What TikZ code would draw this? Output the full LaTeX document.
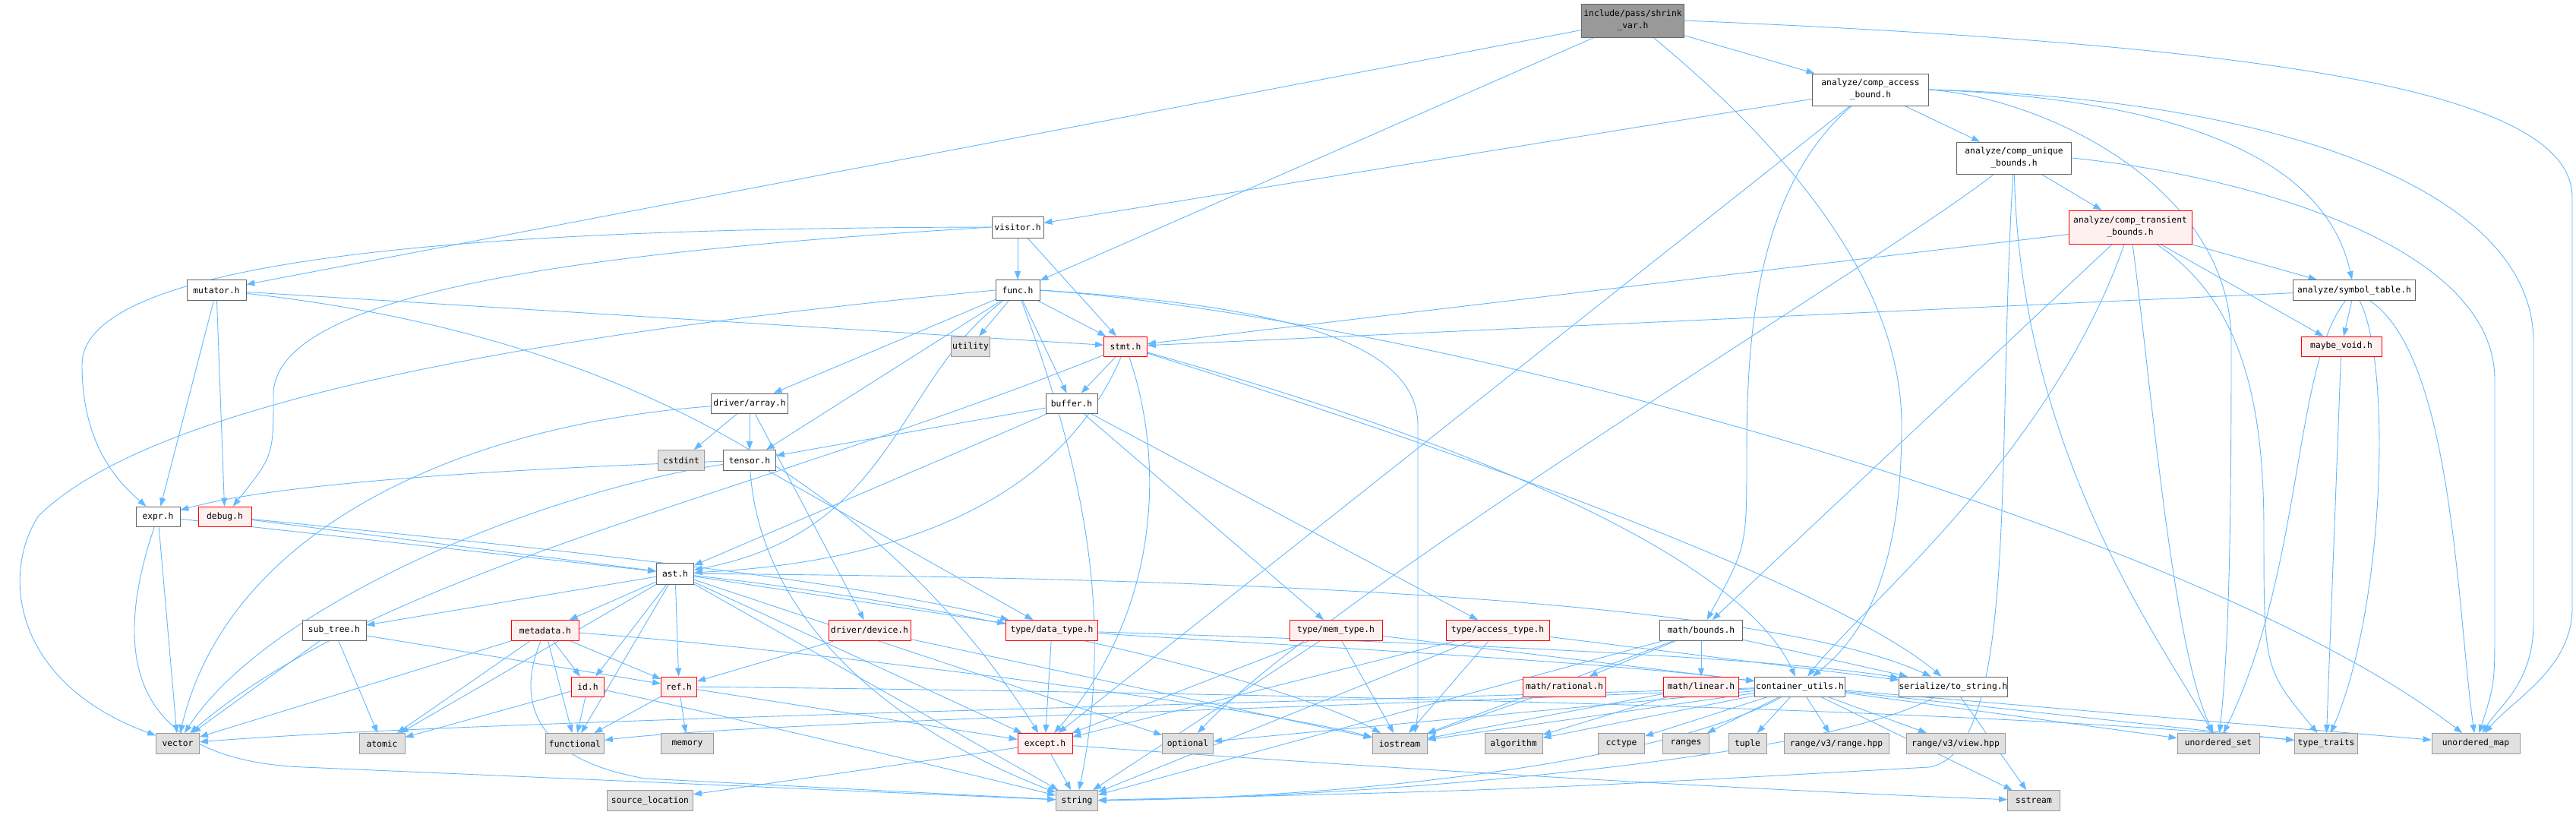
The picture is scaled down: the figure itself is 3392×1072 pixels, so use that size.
\documentclass[tikz,border=0pt]{standalone}
\usepackage{fontspec}
\usetikzlibrary{arrows.meta}
\newfontfamily\monof{DejaVu Sans Mono}
\definecolor{edgeblue}{HTML}{63B8FF}
\definecolor{grayborder}{HTML}{666666}
\definecolor{sysfill}{HTML}{E0E0E0}
\definecolor{sysborder}{HTML}{999999}
\definecolor{rootfill}{HTML}{999999}
\definecolor{redfill}{HTML}{FFF0F0}
\pgfdeclarelayer{background}
\pgfsetlayers{background,main}
\tikzset{
  nd/.style={draw=grayborder, fill=white, line width=0.8pt, inner sep=0pt, align=center,
    font=\monof\fontsize{11.3}{16}\selectfont},
  rednd/.style={nd, draw=red, fill=redfill},
  sysnd/.style={nd, draw=sysborder, fill=sysfill},
  rootnd/.style={nd, fill=rootfill},
  edge/.style={draw=edgeblue, line width=0.9pt, -{Triangle[length=11pt,width=8pt]}},
}
\begin{document}
\begin{tikzpicture}[x=1pt,y=-1pt]
\useasboundingbox (0,0) rectangle (3392,1072);
% nodes
\node[rootnd, minimum width=135pt, minimum height=44pt] (sv) at (2150,27) {include/pass/shrink\\\_var.h};
\node[nd, minimum width=153pt, minimum height=42pt] (cab) at (2463,118) {analyze/comp\_access\\\_bound.h};
\node[nd, minimum width=151pt, minimum height=42pt] (cub) at (2652,208) {analyze/comp\_unique\\\_bounds.h};
\node[rednd, minimum width=162pt, minimum height=44pt] (ctb) at (2805,299) {analyze/comp\_transient\\\_bounds.h};
\node[nd, minimum width=68pt, minimum height=28pt] (vis) at (1340,299) {visitor.h};
\node[nd, minimum width=78pt, minimum height=27pt] (mut) at (285,382) {mutator.h};
\node[nd, minimum width=58pt, minimum height=27pt] (func) at (1340,382) {func.h};
\node[sysnd, minimum width=51pt, minimum height=26pt] (util) at (1278,456) {utility};
\node[rednd, minimum width=57pt, minimum height=26pt] (stmt) at (1482,456) {stmt.h};
\node[nd, minimum width=101pt, minimum height=26pt] (arr) at (987,531) {driver/array.h};
\node[nd, minimum width=68pt, minimum height=26pt] (buf) at (1411,531) {buffer.h};
\node[sysnd, minimum width=61pt, minimum height=27pt] (cstd) at (897,606) {cstdint};
\node[nd, minimum width=69pt, minimum height=27pt] (tens) at (987,606) {tensor.h};
\node[nd, minimum width=161pt, minimum height=27pt] (sym) at (3100,382) {analyze/symbol\_table.h};
\node[rednd, minimum width=106pt, minimum height=26pt] (mv) at (3083,456) {maybe\_void.h};
\node[nd, minimum width=58pt, minimum height=26pt] (expr) at (208,680) {expr.h};
\node[rednd, minimum width=70pt, minimum height=26pt] (dbg) at (296,680) {debug.h};
\node[nd, minimum width=49pt, minimum height=28pt] (ast) at (889,755) {ast.h};
\node[rednd, minimum width=108pt, minimum height=27pt] (dev) at (1145,830) {driver/device.h};
\node[rednd, minimum width=121pt, minimum height=27pt] (dt) at (1385,830) {type/data\_type.h};
\node[rednd, minimum width=122pt, minimum height=27pt] (mt) at (1759,830) {type/mem\_type.h};
\node[rednd, minimum width=136pt, minimum height=27pt] (at) at (1972,830) {type/access\_type.h};
\node[nd, minimum width=109pt, minimum height=27pt] (mb) at (2240,830) {math/bounds.h};
\node[nd, minimum width=84pt, minimum height=27pt] (subt) at (440,830) {sub\_tree.h};
\node[rednd, minimum width=89pt, minimum height=27pt] (meta) at (718,830) {metadata.h};
\node[rednd, minimum width=43pt, minimum height=26pt] (idh) at (774,904) {id.h};
\node[rednd, minimum width=47pt, minimum height=26pt] (ref) at (894,904) {ref.h};
\node[rednd, minimum width=109pt, minimum height=26pt] (mr) at (2060,904) {math/rational.h};
\node[rednd, minimum width=99pt, minimum height=26pt] (ml) at (2240,904) {math/linear.h};
\node[nd, minimum width=119pt, minimum height=26pt] (cu) at (2370,904) {container\_utils.h};
\node[nd, minimum width=137pt, minimum height=26pt] (ser) at (2572,904) {serialize/to\_string.h};
\node[sysnd, minimum width=57pt, minimum height=27pt] (vec) at (234,979) {vector};
\node[sysnd, minimum width=60pt, minimum height=27pt] (atom) at (503,979) {atomic};
\node[sysnd, minimum width=77pt, minimum height=27pt] (functional) at (757,979) {functional};
\node[sysnd, minimum width=69pt, minimum height=27pt] (mem) at (905,979) {memory};
\node[rednd, minimum width=72pt, minimum height=27pt] (exc) at (1376,979) {except.h};
\node[sysnd, minimum width=67pt, minimum height=27pt] (opt) at (1564,979) {optional};
\node[sysnd, minimum width=72pt, minimum height=27pt] (ios) at (1843,979) {iostream};
\node[sysnd, minimum width=76pt, minimum height=27pt] (algo) at (1993,979) {algorithm};
\node[sysnd, minimum width=61pt, minimum height=27pt] (cct) at (2135,979) {cctype};
\node[sysnd, minimum width=61pt, minimum height=27pt] (rng) at (2220,979) {ranges};
\node[sysnd, minimum width=50pt, minimum height=27pt] (tup) at (2301,979) {tuple};
\node[sysnd, minimum width=138pt, minimum height=27pt] (rr) at (2418,979) {range/v3/range.hpp};
\node[sysnd, minimum width=130pt, minimum height=27pt] (rv) at (2575,979) {range/v3/view.hpp};
\node[sysnd, minimum width=108pt, minimum height=27pt] (us) at (2921,979) {unordered\_set};
\node[sysnd, minimum width=83pt, minimum height=27pt] (tt) at (3063,979) {type\_traits};
\node[sysnd, minimum width=116pt, minimum height=27pt] (um) at (3260,979) {unordered\_map};
\node[sysnd, minimum width=113pt, minimum height=27pt] (sloc) at (856,1054) {source\_location};
\node[sysnd, minimum width=55pt, minimum height=27pt] (str) at (1418,1054) {string};
\node[sysnd, minimum width=69pt, minimum height=27pt] (ss) at (2678,1054) {sstream};
% edges
\begin{pgfonlayer}{background}
% shrink_var
\draw[edge] (sv) -- (mut);
\draw[edge] (sv) -- (func);
\draw[edge] (sv) -- (cab);
\draw[edge] (sv) .. controls (2420,250) and (2504,420) .. (2504,560) .. controls (2504,760) and (2450,840) .. (cu);
\draw[edge] (sv.east) .. controls (3000,60) and (3387,120) .. (3387,260) -- (3387,800) .. controls (3387,880) and (3310,920) .. (um);
% comp_access_bound
\draw[edge] (cab) -- (vis);
\draw[edge] (cab) -- (cub);
\draw[edge] (cab.east) .. controls (2850,130) and (3060,200) .. (sym);
\draw[edge] (cab) .. controls (2310,250) and (2300,450) .. (2300,600) .. controls (2300,720) .. (mb);
\draw[edge] (cab) -- (exc);
\draw[edge] (cab.east) .. controls (2700,130) and (2938,250) .. (2938,450) .. controls (2938,700) and (2935,850) .. (us);
\draw[edge] (cab.east) .. controls (3000,130) and (3336,250) .. (3336,450) -- (3336,820) .. controls (3336,900) and (3290,930) .. (um);
% comp_unique_bounds
\draw[edge] (cub) -- (ctb);
\draw[edge] (cub.east) .. controls (2950,230) and (3285,320) .. (3285,500) -- (3285,820) .. controls (3285,900) .. (um);
\draw[edge] (cub) .. controls (2500,330) and (1750,780) .. (opt);
\draw[edge] (cub) .. controls (2628,600) and (2660,990) .. (2540,1010) .. controls (2000,1040) .. (str);
\draw[edge] (cub) .. controls (2660,600) and (2850,850) .. (us);
% comp_transient_bounds
\draw[edge] (ctb) -- (stmt);
\draw[edge] (ctb) -- (mb);
\draw[edge] (ctb) .. controls (2700,600) and (2450,800) .. (cu);
\draw[edge] (ctb) .. controls (2832,500) and (2860,850) .. (us);
\draw[edge] (ctb) .. controls (2960,400) and (2981,550) .. (2981,700) .. controls (2981,880) .. (tt);
\draw[edge] (ctb) -- (mv);
\draw[edge] (ctb) -- (sym);
% symbol_table
\draw[edge] (sym) -- (stmt);
\draw[edge] (sym) .. controls (3020,480) and (3033,750) .. (us);
\draw[edge] (sym) -- (mv);
\draw[edge] (sym) .. controls (3150,480) and (3140,800) .. (tt);
\draw[edge] (sym) .. controls (3230,470) and (3235,800) .. (um);
\draw[edge] (mv) -- (tt);
% visitor
\draw[edge] (vis) -- (func);
\draw[edge] (vis) -- (stmt);
\draw[edge] (vis.west) .. controls (700,300) and (108,330) .. (108,480) .. controls (108,580) and (150,630) .. (expr);
\draw[edge] (vis.west) .. controls (800,330) and (360,380) .. (360,520) .. controls (360,600) .. (dbg);
% mutator
\draw[edge] (mut) -- (expr);
\draw[edge] (mut) -- (dbg);
\draw[edge] (mut) -- (stmt);
\draw[edge] (mut) .. controls (900,450) and (1200,700) .. (exc);
% func
\draw[edge] (func.west) .. controls (700,440) and (200,530) .. (50,680) .. controls (0,760) and (20,900) .. (vec);
\draw[edge] (func) -- (arr);
\draw[edge] (func) -- (tens);
\draw[edge] (func) .. controls (1180,500) and (1180,700) .. (ast);
\draw[edge] (func) -- (util);
\draw[edge] (func) .. controls (1420,600) and (1470,800) .. (str);
\draw[edge] (func) -- (buf);
\draw[edge] (func) -- (stmt);
\draw[edge] (func.east) .. controls (1900,420) and (2900,700) .. (um);
\draw[edge] (func.east) .. controls (1650,400) and (1867,440) .. (1867,560) -- (1867,940) -- ([xshift=20pt]ios.north);
% stmt
\draw[edge] (stmt) -- (buf);
\draw[edge] (stmt) .. controls (1400,650) and (1200,740) .. (ast);
\draw[edge] (stmt) .. controls (1532,600) and (1532,800) .. (exc);
\draw[edge] (stmt) .. controls (2000,600) and (2300,750) .. (cu);
\draw[edge] (stmt) .. controls (2100,650) and (2450,800) .. (ser);
\draw[edge] (stmt) .. controls (1000,650) and (500,750) .. (vec);
% buffer
\draw[edge] (buf) -- (tens);
\draw[edge] (buf) -- (ast);
\draw[edge] (buf) -- (mt);
\draw[edge] (buf) -- (at);
% driver/array
\draw[edge] (arr) -- (cstd);
\draw[edge] (arr) -- (tens);
\draw[edge] (arr) -- (dev);
\draw[edge] (arr) .. controls (600,560) and (300,700) .. (vec);
% tensor
\draw[edge] (tens) .. controls (600,620) and (350,640) .. (expr);
\draw[edge] (tens) .. controls (700,650) and (350,800) .. (vec);
\draw[edge] (tens) .. controls (1000,800) and (1150,950) .. (str);
\draw[edge] (tens) -- (dt);
% expr
\draw[edge] (expr) -- (ast);
\draw[edge] (expr) -- (vec);
\draw[edge] (expr) .. controls (150,850) and (160,1000) .. (400,1010) -- (str);
% debug
\draw[edge] (dbg) -- (ast);
\draw[edge] (dbg) .. controls (700,720) and (1100,760) .. (dt);
% ast
\draw[edge] (ast) -- (subt);
\draw[edge] (ast) -- (meta);
\draw[edge] (ast) -- (idh);
\draw[edge] (ast) -- (ref);
\draw[edge] (ast) -- (dt);
\draw[edge] (ast) -- (atom);
\draw[edge] (ast) -- (functional);
\draw[edge] (ast) -- (str);
\draw[edge] (ast) -- (exc);
\draw[edge] (ast) .. controls (1500,760) and (2300,780) .. (ser);
\draw[edge] (ast) -- (opt);
\draw[edge] (ast) .. controls (1300,800) and (1700,900) .. (ios);
% sub_tree
\draw[edge] (subt) -- (vec);
\draw[edge] (subt) -- (atom);
\draw[edge] (subt) -- (ref);
% metadata
\draw[edge] (meta) -- (idh);
\draw[edge] (meta) -- (functional);
\draw[edge] (meta) -- (atom);
\draw[edge] (meta) -- (vec);
\draw[edge] (meta) .. controls (680,920) and (700,1000) .. (850,1025) -- (str);
\draw[edge] (meta) .. controls (1000,850) and (1600,920) .. (ios);
\draw[edge] (meta) -- (ref);
% id
\draw[edge] (idh) -- (atom);
\draw[edge] (idh) -- (functional);
\draw[edge] (idh) .. controls (900,930) and (1200,1000) .. (str);
% ref
\draw[edge] (ref) -- (mem);
\draw[edge] (ref) -- (exc);
\draw[edge] (ref) -- (functional);
\draw[edge] (ref) .. controls (1500,910) and (2600,930) .. (tt);
% driver/device
\draw[edge] (dev) -- (ref);
\draw[edge] (dev) -- (ios);
% data_type
\draw[edge] (dt) -- (exc);
\draw[edge] (dt) .. controls (1700,840) and (2300,860) .. (ser);
\draw[edge] (dt) .. controls (1700,850) and (2100,870) .. (cu);
% mem_type
\draw[edge] (mt) -- (exc);
\draw[edge] (mt) -- (ios);
\draw[edge] (mt) -- (str);
\draw[edge] (mt) -- (cu);
% access_type
\draw[edge] (at) -- (exc);
\draw[edge] (at) -- (ios);
\draw[edge] (at) -- (str);
\draw[edge] (at) -- (ser);
% math
\draw[edge] (mb) -- (mr);
\draw[edge] (mb) -- (ml);
\draw[edge] (mb) -- (ios);
\draw[edge] (mb) -- (ser);
\draw[edge] (mb) -- (str);
\draw[edge] (mr) -- (ios);
\draw[edge] (ml) -- (algo);
\draw[edge] (ml) -- (ios);
% container_utils
\draw[edge] (cu) .. controls (1500,930) and (600,950) .. (vec);
\draw[edge] (cu) -- (ios);
\draw[edge] (cu) -- (algo);
\draw[edge] (cu) -- (cct);
\draw[edge] (cu) -- (rng);
\draw[edge] (cu) -- (tup);
\draw[edge] (cu) -- (rr);
\draw[edge] (cu) -- (rv);
\draw[edge] (cu) -- (us);
\draw[edge] (cu) -- (tt);
\draw[edge] (cu) -- (um);
\draw[edge] (cu) .. controls (2200,1000) and (1800,1050) .. (str);
\draw[edge] (cu) -- (ss);
\draw[edge] (cu) -- (opt);
\draw[edge] (cu) .. controls (1800,930) and (1000,950) .. (functional);
% serialize
\draw[edge] (ser) -- (ss);
\draw[edge] (ser) .. controls (2400,1000) and (1800,1050) .. (str);
% except
\draw[edge] (exc) -- (sloc);
\draw[edge] (exc) -- (str);
\draw[edge] (exc) .. controls (1800,1010) and (2300,1040) .. (ss);
\end{pgfonlayer}
\end{tikzpicture}
\end{document}
